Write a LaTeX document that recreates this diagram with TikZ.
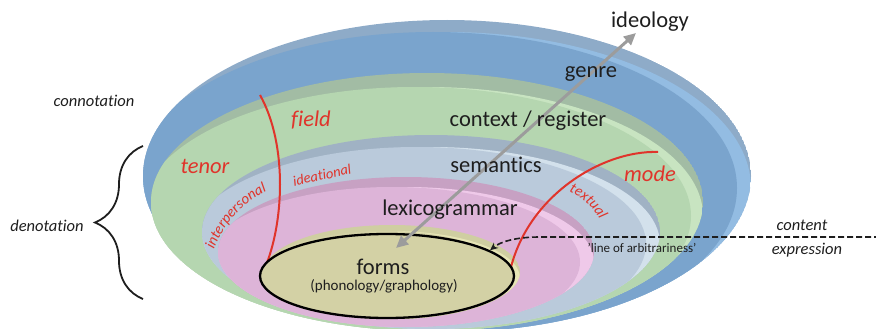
\documentclass[tikz,border=0pt]{standalone}
\usepackage{fontspec}
\setmainfont{Carlito}[Ligatures=NoCommon]
\usetikzlibrary{arrows.meta,decorations.pathreplacing,decorations.text,shapes.geometric}

\definecolor{ink}{HTML}{1E1E1E}
\definecolor{redc}{HTML}{E0342B}
\definecolor{arrowgray}{HTML}{9C9C9C}
% plate colours: lip, right highlight, face
\definecolor{blueLip}{HTML}{8EABC8}
\definecolor{blueHi}{HTML}{93BCE2}
\definecolor{blueFace}{HTML}{7AA4CD}
\definecolor{greenLip}{HTML}{A2BCA4}
\definecolor{greenHi}{HTML}{C8E4C1}
\definecolor{greenFace}{HTML}{B5D6B0}
\definecolor{semLip}{HTML}{A0B2C4}
\definecolor{semHi}{HTML}{D3E1EC}
\definecolor{semFace}{HTML}{BACADB}
\definecolor{pinkLip}{HTML}{C7A1C3}
\definecolor{pinkHi}{HTML}{EFC9E9}
\definecolor{pinkFace}{HTML}{DDB4D8}
\definecolor{beigeLip}{HTML}{CFCEA1}
\definecolor{beigeHi}{HTML}{E6E5B5}
\definecolor{beigeFace}{HTML}{D3D1A5}

% a tilted plate: centre x, centre y, x radius, y radius,
% lip colour, highlight colour, face colour, lip depth, highlight width
\newcommand\drawplate[9]{%
  \begin{scope}
    \clip (#1,#2) ellipse [x radius=#3pt, y radius=#4pt];
    \fill[#5] (#1,#2) ellipse [x radius=#3pt, y radius=#4pt];
    \fill[#6] (#1,#2+#8) ellipse [x radius=#3pt, y radius=#4pt];
    \fill[#7] (#1-#9,#2+#8) ellipse [x radius=#3pt, y radius=#4pt];
  \end{scope}}

\begin{document}
\begin{tikzpicture}[x=1pt,y=-1pt,
  lbl/.style={font=\fontsize{22.5}{24}\selectfont, text=ink, inner sep=0pt},
  redlbl/.style={font=\fontsize{22.5}{24}\selectfont\itshape, text=redc, inner sep=0pt},
  side/.style={font=\fontsize{16.5}{18}\selectfont\itshape, text=ink, inner sep=0pt},
  small/.style={font=\fontsize{13}{14}\selectfont, text=ink, inner sep=0pt},
  redcurve/.style={draw=redc, line width=2pt},
  metaarrow/.style={draw=arrowgray, line width=3pt,
    {Triangle[length=12pt,width=11pt]}-{Triangle[length=12pt,width=11pt]}},
  arbline/.style={draw=ink, line width=1.6pt, dash pattern=on 6pt off 3pt,
    -{Stealth[length=8pt,width=7pt]}},
  bracestyle/.style={draw=ink, line width=1.8pt, decorate,
    decoration={brace, amplitude=48pt}}]

\useasboundingbox (0,0) rectangle (876,329);
\clip (0,0) rectangle (876,329);

% nested strata
\drawplate{447}{176}{304}{156}{blueLip}{blueHi}{blueFace}{12}{14}
\drawplate{427}{202}{276}{129}{greenLip}{greenHi}{greenFace}{14}{12}
\drawplate{431}{232}{229}{97}{semLip}{semHi}{semFace}{12}{14}
\drawplate{406}{252}{188}{75}{pinkLip}{pinkHi}{pinkFace}{10}{14}
\drawplate{392}{272}{128}{47}{beigeLip}{beigeHi}{beigeFace}{6}{8}

% metafunction boundaries
\draw[redcurve] (260,95) .. controls (288,145) and (284,225) .. (264,270);
\draw[redcurve] (658,152) .. controls (600,150) and (520,200) .. (508,282);

% expression plane
\node[ellipse, draw=black, line width=2.3pt, fill=beigeFace,
      minimum width=254pt, minimum height=84pt, inner sep=0pt] (forms) at (387,276) {};

% realisation arrow
\coordinate (pLow) at (396,248);
\coordinate (pHigh) at (636,33);
\draw[metaarrow] (pLow) -- (pHigh);

% line of arbitrariness
\coordinate (dashR) at (880,237);
\coordinate (dashK) at (540,237);
\draw[arbline] (dashR) -- (dashK) .. controls (515,237) and (500,242) .. (forms.14);

% labels
\node[lbl] (ideology) at (650,22) {ideology};
\node[lbl] (genre) at (591,74) {genre};
\node[lbl] (register) at (528,121) {context / register};
\node[lbl] (semantics) at (496,165) {semantics};
\node[lbl] (lexgram) at (450,210) {lexicogrammar};
\node[lbl] (formslbl) at (383,267) {forms};
\node[small, font=\fontsize{15}{16}\selectfont] (phon) at (384,286) {(phonology/graphology)};

\node[redlbl] (field) at (311,120) {field};
\node[redlbl] (tenor) at (205,166) {tenor};
\node[redlbl] (mode) at (650,174) {mode};

\node[font=\fontsize{14.5}{15}\selectfont\itshape, text=redc, inner sep=0pt, rotate=12]
  (ideational) at (322,175) {ideational};
\path[decorate, decoration={text along path, text align=center,
  text={|\fontsize{15}{15}\selectfont\itshape\color{redc}|interpersonal}}]
  (211,258) .. controls (222,224) and (242,201) .. (275,188);
\path[decorate, decoration={text along path, text align=center,
  text={|\fontsize{15}{15}\selectfont\itshape\color{redc}|textual}}]
  (560,188) .. controls (578,193) and (595,206) .. (604,228);

\node[small] (arb) at (642,248) {'line of arbitrariness'};
\node[side] (content) at (802,225) {content};
\node[side] (expression) at (807,250) {expression};
\node[side] (connotation) at (94,101) {connotation};
\node[side] (denotation) at (47,226) {denotation};

% denotation brace
\coordinate (bBot) at (143,299);
\coordinate (bTop) at (143,146);
\draw[bracestyle] (bBot) -- (bTop);

\end{tikzpicture}
\end{document}
